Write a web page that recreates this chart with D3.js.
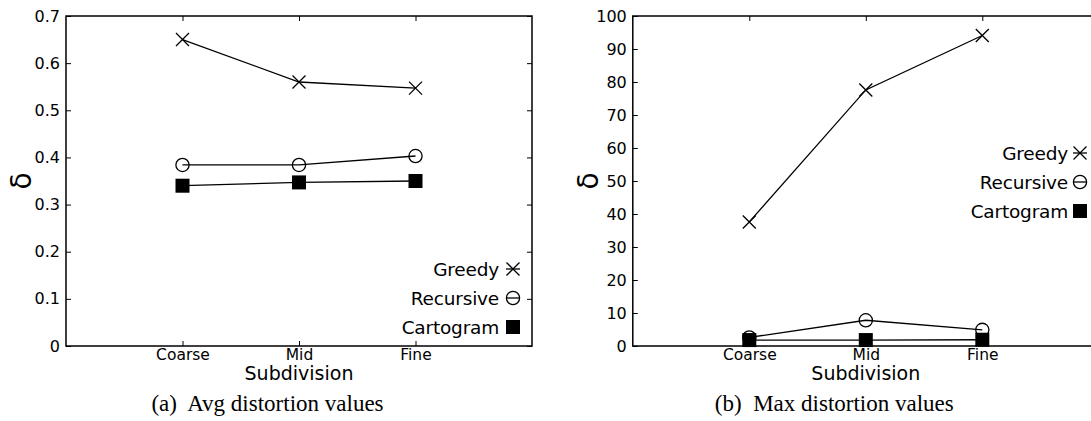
<!DOCTYPE html>
<html>
<head>
<meta charset="utf-8">
<script src="https://cdn.jsdelivr.net/npm/d3@7/dist/d3.min.js"></script>
<style>
  body { margin: 0; background: #fff; }
  svg { display: block; }
</style>
</head>
<body>
<div id="mainDiv"></div>
<script>
// Values
let subdivisions = ["Coarse", "Mid", "Fine"];
let seriesNames = ["Greedy", "Recursive", "Cartogram"];

let avgGreedy = [0.65, 0.56, 0.547];
let avgRecursive = [0.384, 0.384, 0.403];
let avgCartogram = [0.34, 0.347, 0.35];

let maxGreedy = [37.6, 77.6, 94.1];
let maxRecursive = [2.6, 7.8, 4.9];
let maxCartogram = [1.8, 1.8, 1.9];

let avgTicks = [0, 0.1, 0.2, 0.3, 0.4, 0.5, 0.6, 0.7];
let maxTicks = [0, 10, 20, 30, 40, 50, 60, 70, 80, 90, 100];

let captions = ["(a)  Avg distortion values", "(b)  Max distortion values"];

const sansFont = "'DejaVu Sans', sans-serif";
const serifFont = "'Liberation Serif', 'Times New Roman', serif";

const svg = d3.select("#mainDiv")
  .append("svg")
  .attr("width", 1091)
  .attr("height", 421);

drawPanel({
  left: 66, right: 532, top: 16, bottom: 346,
  domain: [0, 0.7], ticks: avgTicks,
  series: [avgGreedy, avgRecursive, avgCartogram],
  caption: captions[0],
  legend: { x: 513, textX: 499, y: [269, 298, 327] }
});

drawPanel({
  left: 632.8, right: 1098.8, top: 16, bottom: 346,
  domain: [0, 100], ticks: maxTicks,
  series: [maxGreedy, maxRecursive, maxCartogram],
  caption: captions[1],
  legend: { x: 1080, textX: 1068, y: [153, 182, 211] }
});

function drawMarker(g, kind, cx, cy) {
  if (kind == 0) {
    let s = 6.5;
    g.append("path")
      .attr("d", `M${cx - s},${cy - s}L${cx + s},${cy + s}M${cx - s},${cy + s}L${cx + s},${cy - s}`)
      .attr("stroke", "#000")
      .attr("stroke-width", 1.3)
      .attr("fill", "none");
  } else if (kind == 1) {
    g.append("circle")
      .attr("cx", cx).attr("cy", cy).attr("r", 6.6)
      .attr("fill", "none")
      .attr("stroke", "#000")
      .attr("stroke-width", 1.3);
  } else {
    g.append("rect")
      .attr("x", cx - 7).attr("y", cy - 7)
      .attr("width", 14).attr("height", 14)
      .attr("fill", "#000");
  }
}

function drawPanel(p) {
  let x = d3.scalePoint()
    .domain(subdivisions)
    .range([p.left, p.right])
    .padding(1);

  let y = d3.scaleLinear()
    .domain(p.domain)
    .range([p.bottom, p.top]);

  let styleAxis = (g, size) => {
    g.select(".domain").remove();
    g.attr("font-size", size).attr("font-family", sansFont);
    g.selectAll(".tick line").attr("stroke", "#000").attr("stroke-width", 1);
    g.selectAll(".tick text").attr("fill", "#000");
  };

  // inward ticks on all four sides
  svg.append("g")
    .attr("transform", `translate(${p.left},0)`)
    .call(d3.axisLeft(y).tickValues(p.ticks).tickFormat(d3.format("~g"))
      .tickSizeInner(-5).tickSizeOuter(0).tickPadding(6))
    .call(g => styleAxis(g, 16));

  svg.append("g")
    .attr("transform", `translate(${p.right},0)`)
    .call(d3.axisRight(y).tickValues(p.ticks).tickFormat("")
      .tickSizeInner(-5).tickSizeOuter(0))
    .call(g => styleAxis(g, 16));

  svg.append("g")
    .attr("transform", `translate(0,${p.bottom})`)
    .call(d3.axisBottom(x).tickSizeInner(-5).tickSizeOuter(0).tickPadding(3))
    .call(g => styleAxis(g, 15.5));

  svg.append("g")
    .attr("transform", `translate(0,${p.top})`)
    .call(d3.axisTop(x).tickFormat("").tickSizeInner(-5).tickSizeOuter(0))
    .call(g => styleAxis(g, 15.5));

  svg.append("rect")
    .attr("x", p.left).attr("y", p.top)
    .attr("width", p.right - p.left).attr("height", p.bottom - p.top)
    .attr("fill", "none")
    .attr("stroke", "#000")
    .attr("stroke-width", 1.5);

  // lines and markers
  let line = d3.line()
    .x((d, i) => x(subdivisions[i]))
    .y(d => y(d));

  p.series.forEach((values, k) => {
    let g = svg.append("g");
    g.append("path")
      .datum(values)
      .attr("d", line)
      .attr("fill", "none")
      .attr("stroke", "#000")
      .attr("stroke-width", 1.3);
    values.forEach((v, i) => drawMarker(g, k, x(subdivisions[i]), y(v)));
  });

  // legend
  seriesNames.forEach((name, k) => {
    let ly = p.legend.y[k];
    let g = svg.append("g");
    g.append("text")
      .attr("x", p.legend.textX)
      .attr("y", ly)
      .attr("dy", "0.36em")
      .attr("text-anchor", "end")
      .attr("font-family", sansFont)
      .attr("font-size", 18.5)
      .attr("letter-spacing", -0.2)
      .text(name);
    g.append("line")
      .attr("x1", p.legend.x - 7).attr("x2", p.legend.x + 7)
      .attr("y1", ly).attr("y2", ly)
      .attr("stroke", "#000")
      .attr("stroke-width", 1.3);
    drawMarker(g, k, p.legend.x, ly);
  });

  // axis titles
  svg.append("text")
    .attr("transform", `translate(${p.left - 45},${(p.top + p.bottom) / 2}) rotate(-90)`)
    .attr("text-anchor", "middle")
    .attr("dy", "0.36em")
    .attr("font-family", sansFont)
    .attr("font-size", 28)
    .text("δ");

  svg.append("text")
    .attr("x", x(subdivisions[1]))
    .attr("y", 380)
    .attr("text-anchor", "middle")
    .attr("font-family", sansFont)
    .attr("font-size", 19)
    .text("Subdivision");

  svg.append("text")
    .attr("x", p.left + 201.5)
    .attr("y", 411)
    .attr("text-anchor", "middle")
    .attr("font-family", serifFont)
    .attr("font-size", 23)
    .style("white-space", "pre")
    .text(p.caption);
}
</script>
</body>
</html>
